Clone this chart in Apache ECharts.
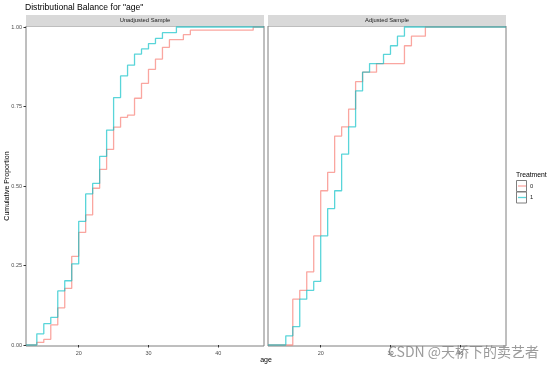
<!DOCTYPE html>
<html>
<head>
<meta charset="utf-8">
<script src="https://cdn.jsdelivr.net/npm/echarts@6/dist/echarts.min.js"></script>
<style>html,body{margin:0;padding:0;background:#fff;}#c{width:554px;height:367px;}</style>
</head>
<body>
<div id="c"></div>
<script>
// ---- data ----
const titleText = 'Distributional Balance for "age"';
const panelNames = ['Unadjusted Sample', 'Adjusted Sample'];
const groups = ['0', '1'];
const xTicks = [20, 30, 40];
const yTicks = [0, 0.25, 0.5, 0.75, 1];
const xMin = 12.45, xMax = 46.55;

// Unadjusted sample
const unadjAge0 = [14,15,16,17,18,19,20,21,22,23,24,25,26,27,28,29,30,31,32,33,35,36,45];
const unadjCdf0 = [0.008,0.018,0.063,0.117,0.178,0.279,0.354,0.409,0.493,0.552,0.615,0.685,0.716,0.723,0.776,0.823,0.867,0.899,0.936,0.960,0.976,0.990,1.000];
const unadjAge1 = [14,15,16,17,18,19,20,21,22,23,24,25,26,27,28,29,30,31,32,34];
const unadjCdf1 = [0.035,0.067,0.087,0.170,0.202,0.255,0.389,0.475,0.508,0.593,0.676,0.778,0.846,0.880,0.915,0.931,0.948,0.964,0.982,1.000];

// Adjusted sample
const adjAge0 = [16,17,18,19,20,21,22,23,24,25,26,28,32,33,35];
const adjCdf0 = [0.144,0.172,0.230,0.343,0.485,0.543,0.657,0.686,0.742,0.828,0.858,0.885,0.941,0.971,1.000];
const adjAge1 = [15,16,17,18,19,20,21,22,23,24,25,26,27,29,30,31,32];
const adjCdf1 = [0.029,0.058,0.144,0.172,0.200,0.343,0.429,0.485,0.600,0.686,0.799,0.858,0.885,0.914,0.941,0.971,1.000];

const colors = ['#F8766D', '#00BFC4'];

// ---- build ----
function ecdf(ages, cdf) {
  const d = [[xMin, 0]];
  ages.forEach((a, i) => d.push([a, cdf[i]]));
  d.push([xMax, 1]);
  return d;
}
const FONT = 'Liberation Sans, Arial, sans-serif';
const gridTop = 26, gridH = 320;
const yPad = 1 / (gridH - 2);
const grids = [
  { left: 26, top: gridTop, width: 238, height: gridH },
  { left: 268, top: gridTop, width: 238, height: gridH }
].map(g => Object.assign(g, { show: true, borderColor: '#7F7F7F', borderWidth: 1, backgroundColor: '#fff', outerBoundsMode: 'none', containLabel: false }));

const xAxes = [0, 1].map(i => ({
  type: 'value', gridIndex: i, min: xMin, max: xMax,
  axisLine: { show: false }, splitLine: { show: false },
  axisTick: { show: true, length: 2.5, customValues: xTicks, lineStyle: { color: '#333', width: 1 } },
  axisLabel: { customValues: xTicks, fontSize: 5.5, color: '#4D4D4D', margin: 4, fontFamily: FONT }
}));
const yAxes = [0, 1].map(i => ({
  type: 'value', gridIndex: i, min: -yPad, max: 1 + yPad,
  axisLine: { show: false }, splitLine: { show: false },
  axisTick: { show: i === 0, length: 2.5, customValues: yTicks, lineStyle: { color: '#333', width: 1 } },
  axisLabel: { show: i === 0, customValues: yTicks, fontSize: 5.5, color: '#4D4D4D', margin: 4, fontFamily: FONT,
               formatter: v => v.toFixed(2) }
}));

const seriesDefs = [
  [0, 0, unadjAge0, unadjCdf0], [0, 1, unadjAge1, unadjCdf1],
  [1, 0, adjAge0, adjCdf0], [1, 1, adjAge1, adjCdf1]
];
const series = seriesDefs.map(([p, g, a, c]) => ({
  type: 'line', name: groups[g], xAxisIndex: p, yAxisIndex: p,
  step: 'end', showSymbol: false, symbol: 'none', silent: true, animation: false,
  data: ecdf(a, c),
  lineStyle: { color: colors[g], width: 1.3, opacity: 0.65 }
}));

const graphics = [];
grids.forEach((g, i) => {
  graphics.push({ type: 'rect', shape: { x: g.left, y: 15, width: g.width, height: 11 }, style: { fill: '#D9D9D9' }, z: 10 });
  graphics.push({ type: 'text', x: g.left + g.width / 2, y: 20.5, style: { text: panelNames[i], fontSize: 5.8, fill: '#1A1A1A', fontFamily: FONT, align: 'center', verticalAlign: 'middle' }, z: 11 });
});
graphics.push({ type: 'text', x: 25, y: 7.5, style: { text: titleText, fontSize: 8.6, fill: '#000', fontFamily: FONT, align: 'left', verticalAlign: 'middle' } });
graphics.push({ type: 'text', x: 7, y: 186, rotation: Math.PI / 2, style: { text: 'Cumulative Proportion', fontSize: 7, fill: '#000', fontFamily: FONT, align: 'center', verticalAlign: 'middle' } });
graphics.push({ type: 'text', x: 266, y: 360, style: { text: 'age', fontSize: 7, fill: '#000', fontFamily: FONT, align: 'center', verticalAlign: 'middle' } });
// legend
graphics.push({ type: 'text', x: 516, y: 175, style: { text: 'Treatment', fontSize: 6.8, fill: '#000', fontFamily: FONT, align: 'left', verticalAlign: 'middle' } });
groups.forEach((g, i) => {
  const y0 = 180 + i * 11.5;
  graphics.push({ type: 'rect', shape: { x: 516.5, y: y0 + 0.5, width: 10, height: 11 }, style: { fill: '#fff', stroke: '#7F7F7F', lineWidth: 1 } });
  graphics.push({ type: 'line', shape: { x1: 518, y1: y0 + 6, x2: 526, y2: y0 + 6 }, style: { stroke: colors[i], lineWidth: 1.3, opacity: 0.65 } });
  graphics.push({ type: 'text', x: 530, y: y0 + 6, style: { text: g, fontSize: 5.8, fill: '#1A1A1A', fontFamily: FONT, align: 'left', verticalAlign: 'middle' } });
});
// watermark
graphics.push({ type: 'text', x: 388, y: 352, style: { text: 'CSDN @天桥下的卖艺者', fontSize: 14, fill: 'rgba(130,130,130,0.8)', fontFamily: 'Noto Sans CJK SC, sans-serif', align: 'left', verticalAlign: 'middle' }, z: 100 });

const chart = echarts.init(document.getElementById('c'), null, { renderer: 'canvas' });
chart.setOption({
  animation: false,
  backgroundColor: '#fff',
  grid: grids, xAxis: xAxes, yAxis: yAxes, series: series,
  graphic: graphics
});
</script>
</body>
</html>
